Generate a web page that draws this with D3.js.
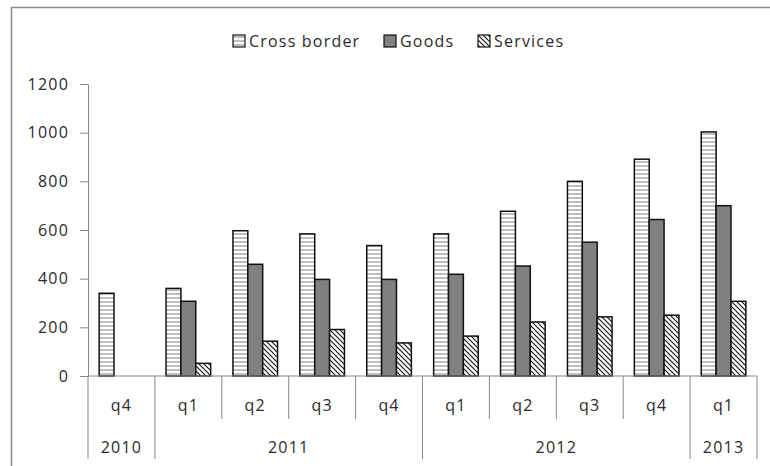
<!DOCTYPE html>
<html>
<head>
<meta charset="utf-8">
<script src="https://cdn.jsdelivr.net/npm/d3@7"></script>
<style>
  body { margin: 0; background: #fff; }
  text { font-family: "Open Sans", sans-serif; fill: #2a2a2a; letter-spacing: 1.2px; }
</style>
</head>
<body>
<div id="chart"></div>
<script>
// data
var quarters = ["q4", "q1", "q2", "q3", "q4", "q1", "q2", "q3", "q4", "q1"];
var years    = ["2010", "2011", "2011", "2011", "2011", "2012", "2012", "2012", "2012", "2013"];
var seriesNames = ["Cross border", "Goods", "Services"];
var crossBorder = [340, 360, 597, 584, 536, 584, 677, 800, 891, 1003];
var goods       = [0, 307, 459, 397, 397, 418, 452, 550, 643, 700];
var services    = [0, 52, 143, 191, 136, 164, 222, 243, 250, 307];
var yTicks = [0, 200, 400, 600, 800, 1000, 1200];

var width = 770, height = 466;
var plot = {left: 88, right: 757, top: 84, bottom: 376};

var svg = d3.select("#chart").append("svg")
    .attr("width", width)
    .attr("height", height);

var defs = svg.append("defs");
var hp = defs.append("pattern")
    .attr("id", "horiz")
    .attr("patternUnits", "userSpaceOnUse")
    .attr("width", 8).attr("height", 4);
hp.append("rect").attr("width", 8).attr("height", 4).attr("fill", "#fff");
hp.append("line").attr("x1", 0).attr("x2", 8).attr("y1", 2).attr("y2", 2)
    .attr("stroke", "#808080").attr("stroke-width", 1);

var dp = defs.append("pattern")
    .attr("id", "diag")
    .attr("patternUnits", "userSpaceOnUse")
    .attr("width", 5).attr("height", 5);
dp.append("rect").attr("width", 5).attr("height", 5).attr("fill", "#fff");
dp.append("path").attr("d", "M-1,-1 L6,6 M-1,4 L1,6 M4,-1 L6,1")
    .attr("stroke", "#111").attr("stroke-width", 1.1);

var fills = {"Cross border": "url(#horiz)", "Goods": "#808080", "Services": "url(#diag)"};
var values = {"Cross border": crossBorder, "Goods": goods, "Services": services};

// outer frame (runs off the right/bottom edge like the original)
svg.append("rect")
    .attr("x", 11.5).attr("y", 7.5)
    .attr("width", 800).attr("height", 500)
    .attr("fill", "none").attr("stroke", "#8a8a8a").attr("stroke-width", 1.5);

var cats = d3.range(quarters.length);
var x = d3.scaleBand().domain(cats).range([plot.left, plot.right]);
var xs = d3.scaleBand().domain(seriesNames).range([0, x.bandwidth()])
    .paddingInner(0).paddingOuter(0.75);
var y = d3.scaleLinear().domain([0, 1200]).range([plot.bottom, plot.top]);

// y axis
var yAxis = svg.append("g")
    .attr("transform", "translate(" + plot.left + ",0)")
    .call(d3.axisLeft(y).tickValues(yTicks).tickFormat(d3.format("d"))
      .tickSize(8).tickPadding(11).tickSizeOuter(0));
yAxis.select(".domain").attr("stroke", "#888");
yAxis.selectAll(".tick line").attr("stroke", "#888");
yAxis.selectAll(".tick text")
    .style("font-size", "16px")
    .style("font-family", "'Open Sans', sans-serif")
    .attr("fill", "#2a2a2a");

// bars
seriesNames.forEach(function(s) {
  svg.append("g").selectAll("rect")
    .data(cats.filter(function(i) { return values[s][i] > 0; }))
    .enter().append("rect")
    .attr("x", function(i) { return x(i) + xs(s); })
    .attr("y", function(i) { return y(values[s][i]); })
    .attr("width", xs.bandwidth())
    .attr("height", function(i) { return y(0) - y(values[s][i]); })
    .attr("fill", fills[s])
    .attr("stroke", "#111")
    .attr("stroke-width", 1.5);
});

// category axis line
svg.append("line")
    .attr("x1", plot.left).attr("x2", plot.right)
    .attr("y1", plot.bottom).attr("y2", plot.bottom)
    .attr("stroke", "#888").attr("stroke-width", 1);

// separators: short ones between quarters, long ones between years
var bounds = d3.range(quarters.length + 1);
svg.append("g").selectAll("line")
  .data(bounds)
  .enter().append("line")
    .attr("x1", function(i) { return i < quarters.length ? x(i) : plot.right; })
    .attr("x2", function(i) { return i < quarters.length ? x(i) : plot.right; })
    .attr("y1", plot.bottom)
    .attr("y2", function(i) {
      var yearEdge = i === 0 || i === quarters.length || years[i] !== years[i - 1];
      return yearEdge ? 459 : 419;
    })
    .attr("stroke", "#888").attr("stroke-width", 1);

// quarter labels
svg.append("g").selectAll("text")
  .data(cats)
  .enter().append("text")
    .attr("x", function(i) { return x(i) + x.bandwidth() / 2; })
    .attr("y", 411)
    .attr("text-anchor", "middle")
    .style("font-size", "16px")
    .text(function(i) { return quarters[i]; });

// year labels, centred on their run of quarters
var yearGroups = d3.groups(cats, function(i) { return years[i]; });
svg.append("g").selectAll("text")
  .data(yearGroups)
  .enter().append("text")
    .attr("x", function(d) {
      var first = d[1][0], last = d[1][d[1].length - 1];
      return (x(first) + x(last) + x.bandwidth()) / 2;
    })
    .attr("y", 453)
    .attr("text-anchor", "middle")
    .style("font-size", "16px")
    .text(function(d) { return d[0]; });

// legend
var legendX = [233, 384, 478];
var legend = svg.append("g").selectAll("g")
  .data(seriesNames)
  .enter().append("g")
    .attr("transform", function(d, i) { return "translate(" + legendX[i] + ",35)"; });
legend.append("rect")
    .attr("width", 12).attr("height", 12)
    .attr("fill", function(d) { return fills[d]; })
    .attr("stroke", "#111").attr("stroke-width", 1.2);
legend.append("text")
    .attr("x", 16).attr("y", 12)
    .style("font-size", "16px")
    .text(function(d) { return d; });
</script>
</body>
</html>
